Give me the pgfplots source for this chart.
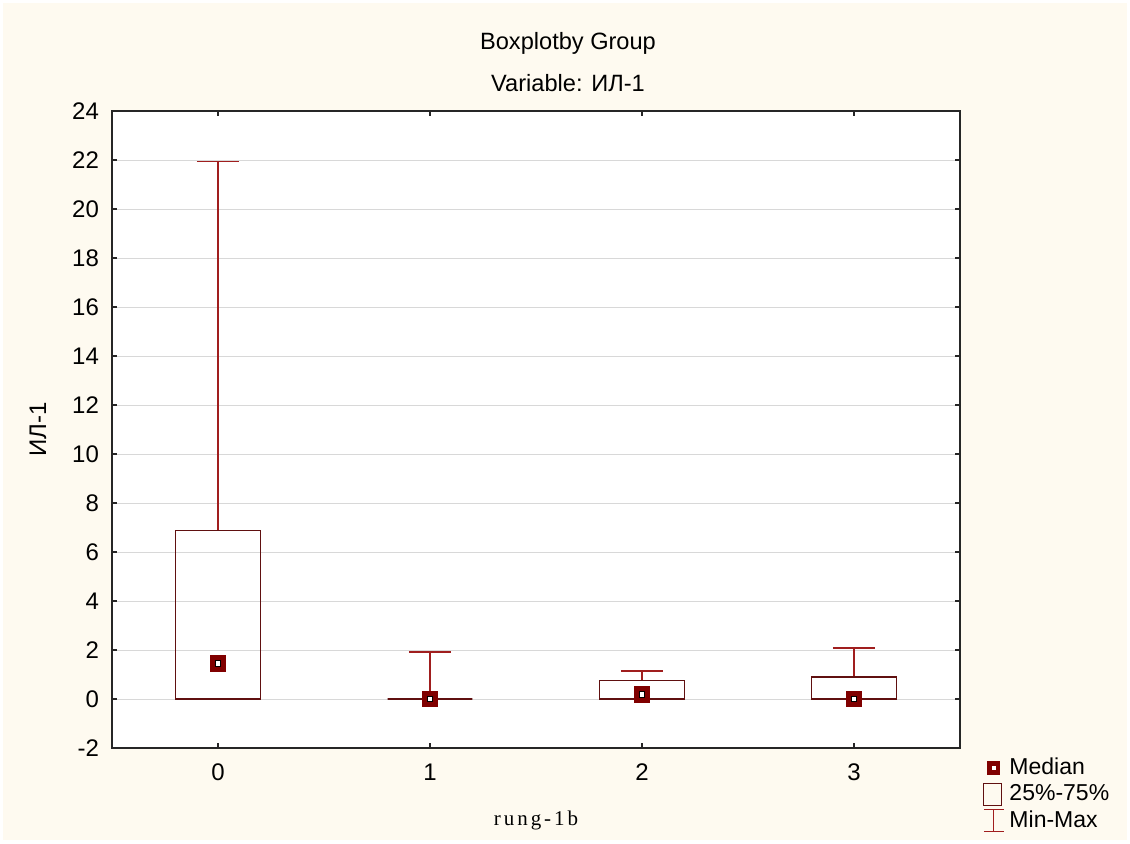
\documentclass[border=0pt]{standalone}
\usepackage{pgfplots}
\pgfplotsset{compat=1.18}
\usepgfplotslibrary{statistics}
\usepackage{fontspec}
\setmainfont{Liberation Sans}
\newfontfamily\serifx[LetterSpace=14]{Liberation Serif}
\definecolor{bg}{RGB}{254,250,240}
\definecolor{boxc}{RGB}{96,16,16}
\definecolor{whisk}{RGB}{160,30,30}
\definecolor{med}{RGB}{128,0,0}
\definecolor{gridc}{RGB}{216,216,216}
\begin{document}
\begin{tikzpicture}[x=1pt,y=1pt]
\fill[white] (-56,-47.5) rectangle (509,374);
\fill[bg] (-54.5,-46) rectangle (507.5,372.5);
\node[font=\fontsize{11.8}{13}\selectfont] at (228,352.5) {Boxplotby Group};
\node[font=\fontsize{11.8}{13}\selectfont] at (228,332.5) {Variable: ИЛ-1};
\begin{axis}[
  at={(0,0)}, anchor=south west, scale only axis,
  width=424pt, height=318.5pt,
  xmin=-0.5, xmax=3.5, ymin=-2, ymax=24,
  xtick={0,1,2,3}, ytick={-2,0,...,24},
  axis background/.style={fill=white},
  axis line style={black!85, line width=0.7pt},
  tick align=inside, major tick length=2.5pt,
  every tick/.style={black!85, line width=0.6pt},
  ymajorgrids, grid style={gridc, line width=0.5pt},
  /pgf/number format/assume math mode=true,
  tick label style={font=\fontsize{12}{14}\selectfont},
  yticklabel style={xshift=-3pt},
  xticklabel style={yshift=-4.5pt},
  every axis y label/.style={at={(axis description cs:-0.0873,0.5)},rotate=90,anchor=center,font=\fontsize{12}{14}\selectfont},
  every axis x label/.style={at={(axis description cs:0.5,-0.113)},anchor=center,font=\fontsize{10.5}{12}\serifx},
  ylabel={ИЛ-1}, xlabel={rung-1b},
  boxplot/draw direction=y,
  boxplot/every box/.style={draw=boxc, line width=0.8pt},
  boxplot/every whisker/.style={draw=whisk, line width=0.9pt},
  boxplot/every median/.style={draw=none},
  legend style={draw=none, fill=none, at={(axis description cs:1.027,-0.01)}, anchor=north west,
    font=\fontsize{11.5}{13}\selectfont, row sep=0pt, column sep=2pt, inner sep=0pt,
    nodes={inner sep=0.5pt}},
  legend cell align=left,
]
\addplot[forget plot, boxplot prepared={draw position=0, lower whisker=0, lower quartile=0, median=1.46, upper quartile=6.88, upper whisker=21.94, box extend=0.4, whisker extend=0.2}] coordinates {};
\addplot[forget plot, boxplot prepared={draw position=1, lower whisker=0, lower quartile=0, median=0, upper quartile=0, upper whisker=1.93, box extend=0.4, whisker extend=0.2}] coordinates {};
\addplot[forget plot, boxplot prepared={draw position=2, lower whisker=0, lower quartile=0, median=0.19, upper quartile=0.75, upper whisker=1.13, box extend=0.4, whisker extend=0.2}] coordinates {};
\addplot[forget plot, boxplot prepared={draw position=3, lower whisker=0, lower quartile=0, median=0, upper quartile=0.89, upper whisker=2.07, box extend=0.4, whisker extend=0.2}] coordinates {};
\addplot[forget plot, only marks, mark=square*, mark size=3.9pt, mark options={fill=med, draw=med}] coordinates {(0,1.46) (1,0) (2,0.19) (3,0)};
\addplot[forget plot, only marks, mark=square*, mark size=1.35pt, mark options={fill=white, draw=none}] coordinates {(0,1.46) (1,0) (2,0.19) (3,0)};
\addlegendimage{legend image code/.code={\path[draw=none,fill=none] (-5pt,-6.6pt) rectangle (5pt,6.6pt); \fill[med,draw=none] (-3.3pt,-3.3pt) rectangle (3.3pt,3.3pt); \fill[white,draw=none] (-1.1pt,-1.1pt) rectangle (1.1pt,1.1pt);}}
\addlegendentry{Median}
\addlegendimage{legend image code/.code={\path[draw=none,fill=none] (-5pt,-6.6pt) rectangle (5pt,6.6pt); \draw[boxc, fill=none, line width=0.6pt] (-5pt,-5.5pt) rectangle (4pt,5.5pt);}}
\addlegendentry{25\%-75\%}
\addlegendimage{legend image code/.code={\path[draw=none,fill=none] (-5pt,-6.6pt) rectangle (5pt,6.6pt); \draw[whisk, fill=none, line width=0.6pt] (-5pt,-5.5pt) -- (5pt,-5.5pt) (0,-5.5pt) -- (0,5.5pt) (-5pt,5.5pt) -- (5pt,5.5pt);}}
\addlegendentry{Min-Max}
\end{axis}
\end{tikzpicture}
\end{document}
